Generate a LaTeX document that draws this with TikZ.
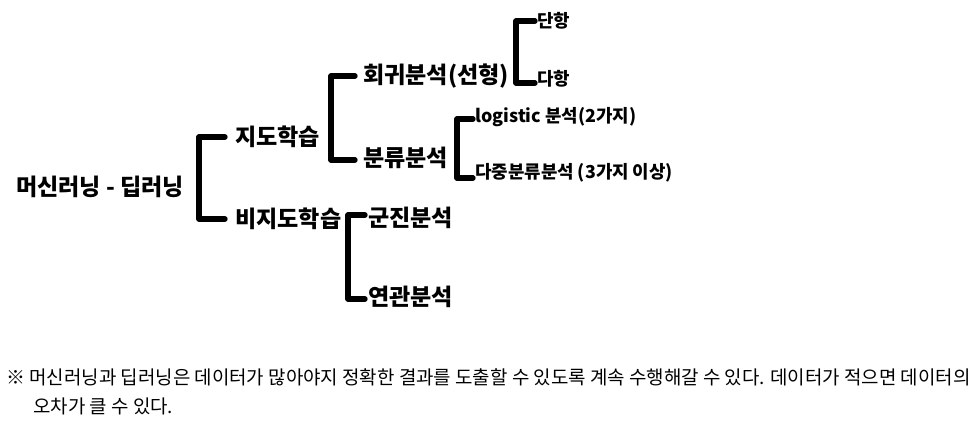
\documentclass[tikz,border=0pt]{standalone}
\usepackage{fontspec}
\setmainfont{Noto Sans CJK KR}
\usepackage{tikz}
\usetikzlibrary{calc,positioning}
\definecolor{ink}{HTML}{000000}
\tikzset{branch/.style={font=\bfseries\fontsize{17.3}{20}\selectfont,anchor=west,inner sep=0pt,text=ink},
 leaf/.style={font=\bfseries\fontsize{13.4}{16}\selectfont,anchor=west,inner sep=0pt,text=ink},
 brk/.style={draw=ink,line width=4pt,line cap=round,line join=round},
 remark/.style={font=\fontsize{14.2}{17}\selectfont,anchor=west,inner sep=0pt,text=ink}}

\begin{document}
\begin{tikzpicture}[x=0.75pt,y=-0.75pt]
\useasboundingbox (0,0) rectangle (975,426);
% tree
\node[branch] (root) at (16,187) {머신러닝 - 딥러닝};
\node[branch] (jido) at (235,137) {지도학습};
\node[branch] (bijido) at (235,219) {비지도학습};
\node[branch] (hoegwi) at (363,76) {회귀분석(선형)};
\node[branch] (bunryu) at (363,158) {분류분석};
\node[branch] (gunjin) at (368,218) {군진분석};
\node[branch] (yeongwan) at (368,297) {연관분석};
\node[leaf] (danhang) at (537,21) {단항};
\node[leaf] (dahang) at (537,79) {다항};
\node[leaf] (logit) at (475,117) {logistic 분석(2가지)};
\node[leaf] (dajung) at (475,173) {다중분류분석 (3가지 이상)};
% brackets
\draw[brk] ($(jido.west)+(-10,0)$) -| ($(bijido.west)+(-36,0)$) -- ($(bijido.west)+(-10,0)$);
\draw[brk] ($(hoegwi.west)+(-8,0)$) -| ($(bunryu.west)+(-32,2)$) -- ($(bunryu.west)+(-8,2)$);
\draw[brk] ($(danhang.west)+(-2,0)$) -| ($(dahang.west)+(-21,4)$) -- ($(dahang.west)+(-2,4)$);
\draw[brk] ($(logit.west)+(-2,2)$) -| ($(dajung.west)+(-18,5)$) -- ($(dajung.west)+(-2,5)$);
\draw[brk] ($(gunjin.west)+(-3,-3)$) -| ($(yeongwan.west)+(-20,2)$) -- ($(yeongwan.west)+(-3,2)$);
% note
\node[remark] (note1) at (6,377) {※ 머신러닝과 딥러닝은 데이터가 많아야지 정확한 결과를 도출할 수 있도록 계속 수행해갈 수 있다. 데이터가 적으면 데이터의};
\node[remark] (note2) at (33,406) {오차가 클 수 있다.};
\end{tikzpicture}
\end{document}
